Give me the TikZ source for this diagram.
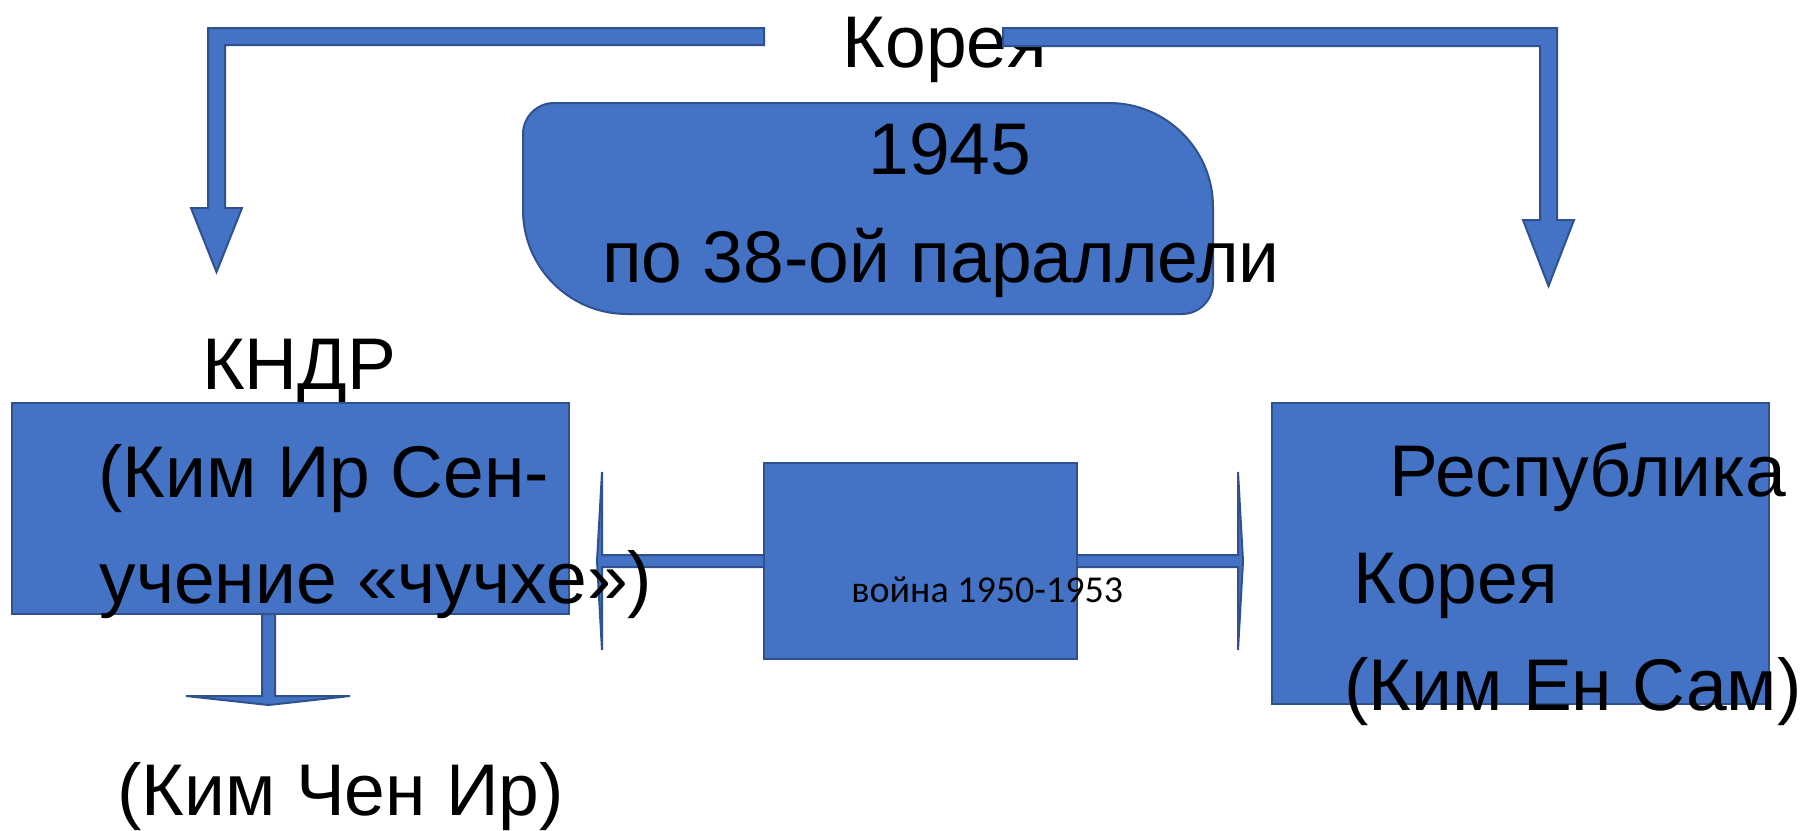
\documentclass[tikz,border=0pt]{standalone}
\usepackage{fontspec}
\setmainfont{Liberation Sans}
\newfontfamily\calibrifont{Carlito}
\definecolor{fillblue}{HTML}{4472C4}
\definecolor{lineblue}{HTML}{2F528F}
\begin{document}
\begin{tikzpicture}[x=0.5pt,y=-0.5pt,
  blk/.style={fill=fillblue,draw=lineblue,line width=1pt,line join=miter},
  box/.style={blk,rectangle,inner sep=0pt},
  big/.style={inner sep=0pt,font=\fontsize{36.6}{36.6}\selectfont,text=black},
  small/.style={inner sep=0pt,font=\calibrifont\fontsize{19}{19}\selectfont,text=black}]
\useasboundingbox[fill=white] (0,0) rectangle (1802,830);

% rounded "1945" box
\path[blk] (554,103) -- (1109,103) .. controls (1166.4,103) and (1213,149.6) .. (1213,207)
  -- (1213,283) .. controls (1213,300.1) and (1199.1,314) .. (1182,314)
  -- (627,314) .. controls (569.6,314) and (523,267.4) .. (523,210)
  -- (523,134) .. controls (523,116.9) and (536.9,103) .. (554,103) -- cycle;
\node[big,anchor=base] (y1945) at (950,174) {1945};
\node[big,anchor=base] (par) at (941,282) {по 38-ой параллели};

% title
\node[big,anchor=base] (korea) at (945,67) {Корея};

% bent arrows
\path[blk] (764,28) -- (208,28) -- (208,208) -- (191,208) -- (216.5,272) -- (242,208)
  -- (225,208) -- (225,45) -- (764,45) -- cycle;
\path[blk] (1003,28) -- (1557,28) -- (1557,220) -- (1574,220) -- (1548.5,286) -- (1523,220)
  -- (1540,220) -- (1540,46) -- (1003,46) -- cycle;

% KNDR
\node[big,anchor=base] (kndrlbl) at (299,389) {КНДР};
\node[box,minimum width=278.5pt,minimum height=105.5pt] (kndr) at (290.5,508.5) {};

% down arrow
\path[blk] (262,614) -- (262,696) -- (186,696) -- (268.5,705) -- (350,696) -- (275,696) -- (275,614) -- cycle;

% double arrow (war)
\path[blk] (602,555) -- (1238,555) -- (1238,472) -- (1243,561) -- (1238,650) -- (1238,567)
  -- (602,567) -- (602,650) -- (597,561) -- (602,472) -- cycle;
\node[box,minimum width=156.5pt,minimum height=98pt] (war) at (920.5,561) {};

% right box
\node[box,minimum width=248.5pt,minimum height=150.5pt] (rok) at (1520.5,553.5) {};

% texts
\node[big,anchor=base west] (l1) at (98,497) {(Ким Ир Сен-};
\node[big,anchor=base west] (l2) at (99,603) {учение «чучхе»)};
\node[small,anchor=base west] (warlbl) at (851,602) {война 1950-1953};
\node[big,anchor=base west] (r1) at (1389,496) {Республика};
\node[big,anchor=base west] (r2) at (1353,603) {Корея};
\node[big,anchor=base west] (r3) at (1344,710) {(Ким Ен Сам)};
\node[big,anchor=base west] (kci) at (117,815) {(Ким Чен Ир)};
\end{tikzpicture}
\end{document}
